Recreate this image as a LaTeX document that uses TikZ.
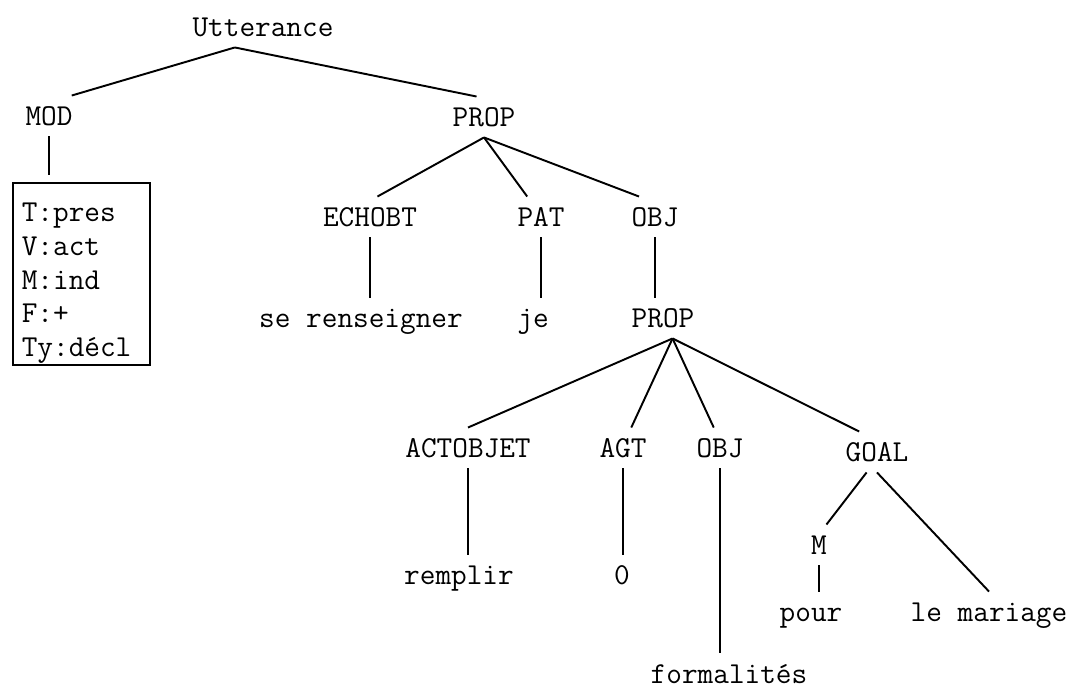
\documentclass[tikz,border=0pt]{standalone}
\usepackage{tikz}

\begin{document}
\begin{tikzpicture}[line width=1.1pt,
		lbl/.style={inner xsep=2pt,inner ysep=5.8pt,text height=10.6pt,text depth=0pt,font=\fontsize{17.3}{19.2}\selectfont\ttfamily},
		traits/.style={draw,rectangle,align=left,inner xsep=5pt,inner ysep=1pt,text width=67.96pt,minimum height=3.64cm,font=\fontsize{17.3}{19.2}\selectfont\ttfamily}]
			\useasboundingbox (0.,0.) rectangle (21.68,13.8);
			% top level
			\node[lbl] (utt) at (5.26,13.26) {Utterance};
			\node[lbl] (mod) at (0.98,11.48) {MOD};
			\node[lbl] (prop) at (9.68,11.46) {PROP};
			\node[traits] (box) at (1.63,8.32) {\rule{0pt}{21.2pt}T:pres\\V:act\\M:ind\\F:+\\Ty:décl};
			% PROP
			\node[lbl] (echobt) at (7.40,9.46) {ECHOBT};
			\node[lbl] (pat) at (10.82,9.46) {PAT};
			\node[lbl] (obj) at (13.10,9.46) {OBJ};
			\node[lbl] (rens) at (7.22,7.44) {se renseigner};
			\node[lbl] (je) at (10.66,7.44) {je};
			\node[lbl] (prop2) at (13.26,7.44) {PROP};
			% inner PROP
			\node[lbl] (actobjet) at (9.36,4.84) {ACTOBJET};
			\node[lbl] (agt) at (12.46,4.84) {AGT};
			\node[lbl] (obj2) at (14.40,4.84) {OBJ};
			\node[lbl] (goal) at (17.54,4.76) {GOAL};
			\node[lbl] (remplir) at (9.18,2.30) {remplir};
			\node[lbl] (zero) at (12.44,2.30) {0};
			\node[lbl,inner ysep=3pt] (formal) at (14.58,0.32) {formalités};
			\node[lbl] (m) at (16.38,2.90) {M};
			\node[lbl] (pour) at (16.22,1.56) {pour};
			\node[lbl] (mariage) at (19.78,1.56) {le mariage};
			% branches
			\draw (utt.216) -- (mod.42);
			\draw (utt.216) -- (prop.110);
			\draw[shorten >=4pt] (mod.south) -- (mod.south |- box.north);
			\draw (prop.south) -- (echobt.70);
			\draw (prop.south) -- (pat.124);
			\draw (prop.south) -- (obj.128);
			\draw (echobt.south) -- (echobt.south |- rens.north);
			\draw (pat.south) -- (pat.south |- je.north);
			\draw (obj.south) -- (obj.south |- prop2.north);
			\draw (prop2.295) -- (actobjet.north);
			\draw (prop2.295) -- (agt.68);
			\draw (prop2.295) -- (obj2.107);
			\draw (prop2.295) -- (goal.131);
			\draw (actobjet.south) -- (actobjet.south |- remplir.north);
			\draw (agt.south) -- (agt.south |- zero.north);
			\draw[shorten >=3pt] (obj2.south) -- (obj2.south |- formal.north);
			\draw (goal.243) -- (m.70);
			\draw (goal.south) -- (mariage.north);
			\draw (m.south) -- (m.south |- pour.north);
		\end{tikzpicture}
\end{document}
